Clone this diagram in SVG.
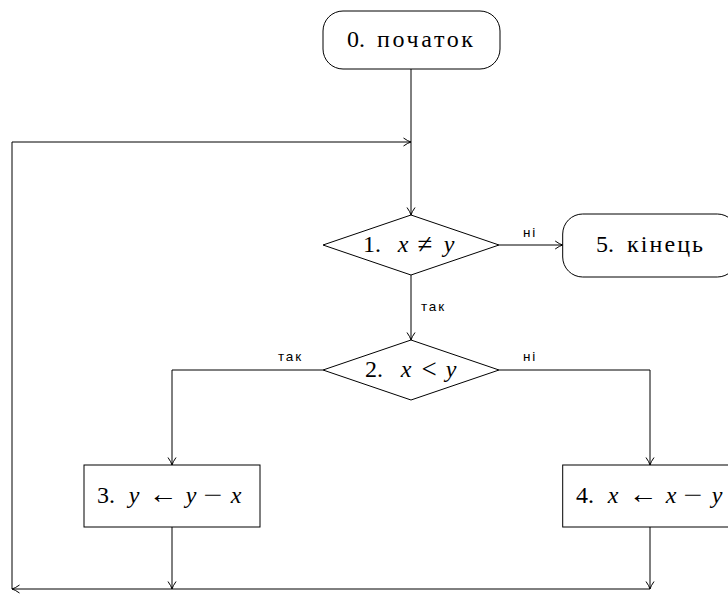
<svg xmlns="http://www.w3.org/2000/svg" width="728" height="595" viewBox="0 0 728 595">
<style>
.sh{fill:#fff;stroke:#000;stroke-width:1}
.t{font-family:"Liberation Serif","Times New Roman",serif;font-size:24px;fill:#000;text-anchor:middle}
.i{font-style:italic}
.r{font-size:27px}
.l{font-family:"Liberation Sans",Arial,sans-serif;font-size:13.5px;letter-spacing:1.8px;fill:#000}
.c{fill:none;stroke:#000;stroke-width:1}
</style>
<defs>
<marker id="arr" markerUnits="userSpaceOnUse" viewBox="-9 -5 10 10" refX="0" refY="0" markerWidth="10" markerHeight="10" orient="auto" overflow="visible">
<path d="M-7.5,-4 Q-3,-0.8 0,0 Q-3,0.8 -7.5,4" fill="none" stroke="#000" stroke-width="1"/>
</marker>
</defs>
<rect width="728" height="595" fill="#fff"/>
<g id="connectors" class="c">
<path d="M411,69 V215" marker-end="url(#arr)"/>
<path d="M499,245 H562.7" marker-end="url(#arr)"/>
<path d="M411,275 V340" marker-end="url(#arr)"/>
<path d="M323,370 H172 V465" marker-end="url(#arr)"/>
<path d="M499,370 H650 V465" marker-end="url(#arr)"/>
<path d="M172,527 V589" marker-end="url(#arr)"/>
<path d="M650,527 V589" marker-end="url(#arr)"/>
<path d="M650,589 H12" marker-end="url(#arr)"/>
<path d="M12,589 V142 H411" marker-end="url(#arr)"/>
</g>
<g id="labels">
<text class="l" x="523" y="237">ні</text>
<text class="l" x="421" y="311">так</text>
<text class="l" x="278" y="361">так</text>
<text class="l" x="523" y="361">ні</text>
</g>
<g id="n0">
<rect class="sh" x="323" y="11" width="177" height="58" rx="20"/>
<text class="t" x="356" y="47">0.</text>
<text class="t" x="425" y="47" textLength="96" lengthAdjust="spacing">початок</text>
</g>
<g id="n1">
<polygon class="sh" points="323,245 411,215 499,245 411,275"/>
<text class="t" x="372" y="252">1.</text>
<text class="t i" x="403" y="252">x</text>
<text class="t r" x="425" y="253">≠</text>
<text class="t i" x="449" y="252">y</text>
</g>
<g id="n5">
<rect class="sh" x="562.7" y="214" width="174.6" height="63" rx="20"/>
<text class="t" x="605" y="252">5.</text>
<text class="t" x="665" y="252" textLength="76" lengthAdjust="spacing">кінець</text>
</g>
<g id="n2">
<polygon class="sh" points="323,370 411,340 499,370 411,400"/>
<text class="t" x="374" y="377">2.</text>
<text class="t i" x="406" y="377">x</text>
<text class="t r" x="429" y="378">&lt;</text>
<text class="t i" x="451" y="377">y</text>
</g>
<g id="n3">
<rect class="sh" x="84" y="465" width="176" height="62"/>
<text class="t" x="106" y="503">3.</text>
<text class="t i" x="134" y="503">y</text>
<text class="t r" x="163" y="503" textLength="29" lengthAdjust="spacingAndGlyphs">←</text>
<text class="t" x="213" y="503" textLength="19" lengthAdjust="spacingAndGlyphs">−</text>
<text class="t i" x="191" y="503">y</text>
<text class="t i" x="236" y="503">x</text>
</g>
<g id="n4">
<rect class="sh" x="562.7" y="465" width="174.6" height="62"/>
<text class="t" x="585" y="503">4.</text>
<text class="t i" x="613" y="503">x</text>
<text class="t r" x="643" y="503" textLength="29" lengthAdjust="spacingAndGlyphs">←</text>
<text class="t i" x="671" y="503">x</text>
<text class="t" x="693" y="503" textLength="19" lengthAdjust="spacingAndGlyphs">−</text>
<text class="t i" x="717" y="503">y</text>
</g>
</svg>
